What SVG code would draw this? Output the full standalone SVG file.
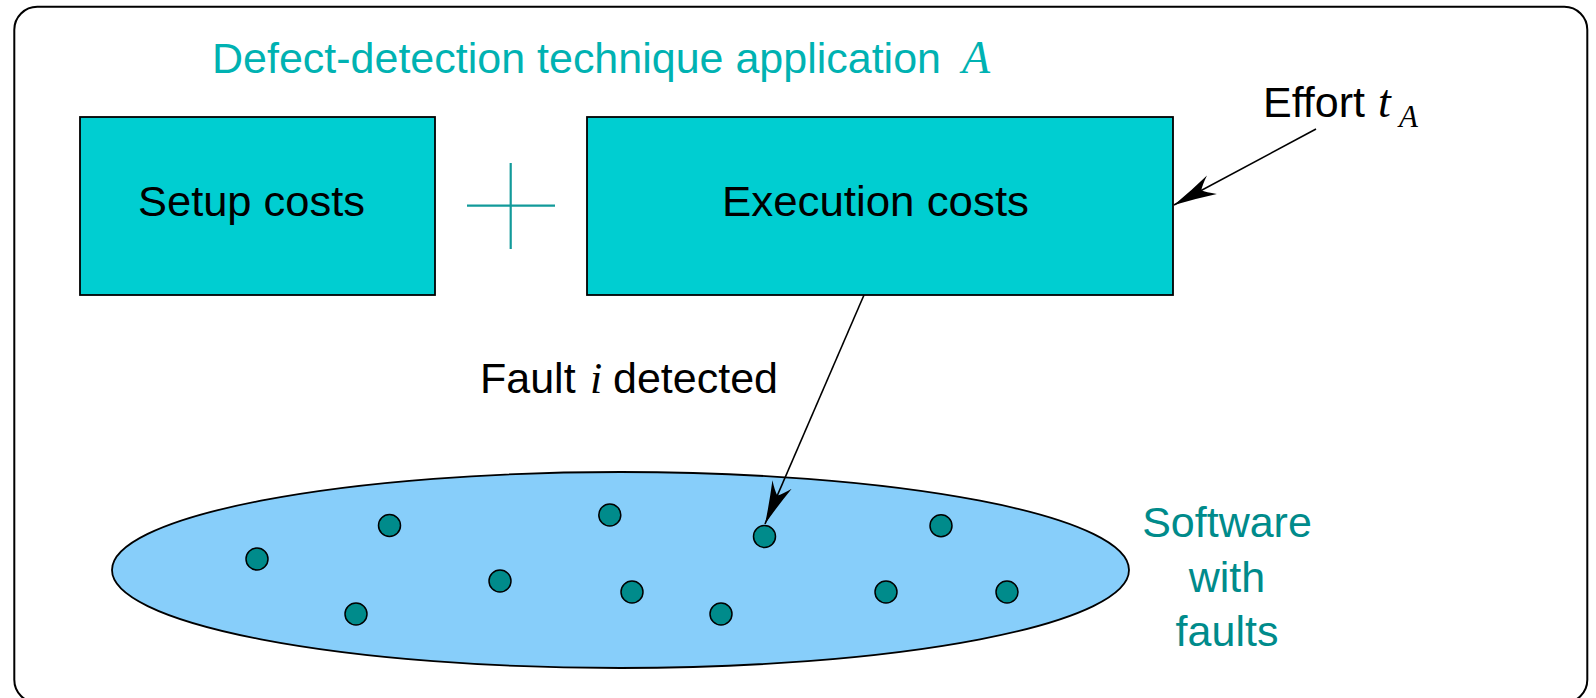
<svg xmlns="http://www.w3.org/2000/svg" width="1596" height="698" viewBox="0 0 1596 698">
  <style>
    .sans { font-family: "Liberation Sans", Arial, sans-serif; font-size: 43px; }
    .math { font-family: "Liberation Serif", "Times New Roman", serif; font-style: italic; }
    .box { fill: #00CED1; stroke: #000; stroke-width: 1.8; }
    .fault { fill: #008B8B; stroke: #000; stroke-width: 1.5; }
    .edge { fill: none; stroke: #000; stroke-width: 1.6; }
    .label { fill: #000; }
  </style>
  <defs>
    <marker id="barb" markerUnits="userSpaceOnUse" viewBox="-46 -12 48 24" refX="0" refY="0" markerWidth="48" markerHeight="24" orient="auto" overflow="visible">
      <path d="M0,0 Q-22,-4.5 -43,-10.5 Q-34,-4 -31,0 Q-34,4 -43,10.5 Q-22,4.5 0,0 Z" fill="#000"/>
    </marker>
  </defs>

  <rect width="1596" height="698" fill="#fff"/>

  <!-- outer frame -->
  <rect x="14.3" y="6.7" width="1573" height="696" rx="23" ry="23" fill="none" stroke="#000" stroke-width="2"/>

  <!-- title -->
  <g id="title">
    <text class="sans" y="72.5" fill="#00B2B2"><tspan x="212" textLength="729" lengthAdjust="spacingAndGlyphs">Defect-detection technique application</tspan> <tspan class="math" x="962" font-size="46">A</tspan></text>
  </g>

  <!-- cost boxes -->
  <g id="setup-costs">
    <rect class="box" x="80" y="117" width="355" height="178"/>
    <text class="sans label" x="138" y="216" textLength="227" lengthAdjust="spacingAndGlyphs">Setup costs</text>
  </g>

  <g id="plus">
    <line x1="467" y1="205.7" x2="555" y2="205.7" stroke="#129A9A" stroke-width="2.2"/>
    <line x1="510.7" y1="163" x2="510.7" y2="249" stroke="#129A9A" stroke-width="2.2"/>
  </g>

  <g id="execution-costs">
    <rect class="box" x="587" y="117" width="586" height="178"/>
    <text class="sans label" x="722" y="216" textLength="307" lengthAdjust="spacingAndGlyphs">Execution costs</text>
  </g>

  <!-- effort label -->
  <g id="effort">
    <text class="sans label" x="1263" y="117">Effort <tspan class="math" x="1378" font-size="46">t</tspan><tspan class="math" x="1399" y="127" font-size="31">A</tspan></text>
  </g>

  <!-- fault label -->
  <g id="fault-label">
    <text class="sans label" x="480" y="393">Fault <tspan class="math" x="590" font-size="44">i</tspan><tspan x="613">detected</tspan></text>
  </g>

  <!-- software with faults -->
  <g id="software">
    <ellipse cx="620.5" cy="570" rx="508.5" ry="98" fill="#87CEFA" stroke="#000" stroke-width="1.8"/>
    <circle class="fault" cx="257" cy="559" r="11"/>
    <circle class="fault" cx="389.5" cy="525.5" r="11"/>
    <circle class="fault" cx="356" cy="614" r="11"/>
    <circle class="fault" cx="500" cy="581" r="11"/>
    <circle class="fault" cx="609.8" cy="515" r="11"/>
    <circle class="fault" cx="632" cy="592" r="11"/>
    <circle class="fault" cx="764.5" cy="536.5" r="11"/>
    <circle class="fault" cx="721" cy="614" r="11"/>
    <circle class="fault" cx="941" cy="525.7" r="11"/>
    <circle class="fault" cx="886" cy="592" r="11"/>
    <circle class="fault" cx="1007" cy="592" r="11"/>
  </g>

  <g id="software-label" fill="#008B8B">
    <text class="sans" x="1227" y="537" text-anchor="middle">Software</text>
    <text class="sans" x="1227" y="591.5" text-anchor="middle">with</text>
    <text class="sans" x="1227" y="646" text-anchor="middle">faults</text>
  </g>

  <!-- connectors -->
  <g id="connectors">
    <line class="edge" x1="1316" y1="129" x2="1174" y2="205" marker-end="url(#barb)"/>
    <line class="edge" x1="864" y1="295" x2="765" y2="524" marker-end="url(#barb)"/>
  </g>
</svg>
